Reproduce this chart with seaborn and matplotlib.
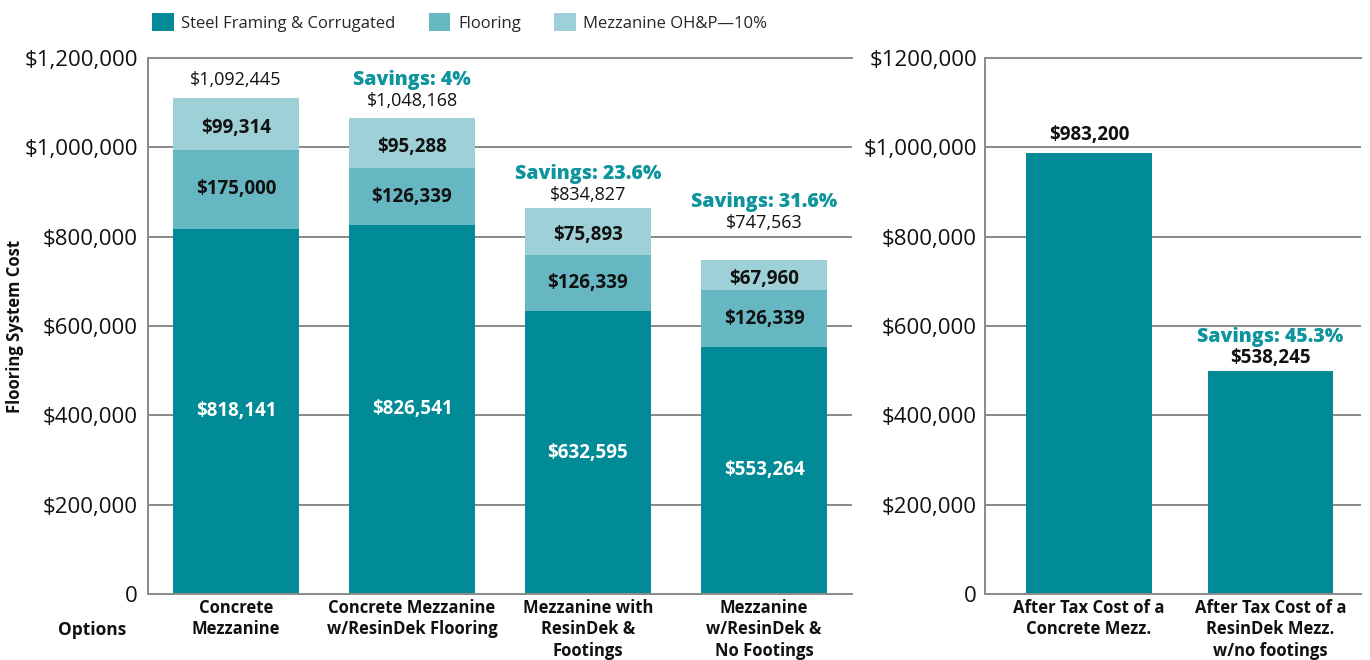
import matplotlib
matplotlib.use("Agg")
import matplotlib.pyplot as plt
import seaborn as sns
import pandas as pd
from matplotlib.ticker import FixedLocator
from matplotlib.patches import Patch

# ---------------- data ----------------
categories = ["Concrete\nMezzanine",
              "Concrete Mezzanine\nw/ResinDek Flooring",
              "Mezzanine with\nResinDek &\nFootings",
              "Mezzanine\nw/ResinDek &\nNo Footings"]
steel = [818141, 826541, 632595, 553264]
flooring = [175000, 126339, 126339, 126339]
ohp = [117000, 113000, 105000, 67960]          # heights as drawn in the picture
steel_labels = ["$818,141", "$826,541", "$632,595", "$553,264"]
flooring_labels = ["$175,000", "$126,339", "$126,339", "$126,339"]
ohp_labels = ["$99,314", "$95,288", "$75,893", "$67,960"]
total_labels = ["$1,092,445", "$1,048,168", "$834,827", "$747,563"]
savings_labels = ["", "Savings: 4%", "Savings: 23.6%", "Savings: 31.6%"]

after_tax_categories = ["After Tax Cost of a\nConcrete Mezz.",
                        "After Tax Cost of a\nResinDek Mezz.\nw/no footings"]
after_tax = [987000, 499000]                  # heights as drawn in the picture
after_tax_labels = ["$983,200", "$538,245"]
after_tax_savings = ["", "Savings: 45.3%"]

ytick_values = [0, 200000, 400000, 600000, 800000, 1000000, 1200000]
left_ytick_labels = ["0", "$200,000", "$400,000", "$600,000", "$800,000", "$1,000,000", "$1,200,000"]
right_ytick_labels = ["0", "$200,000", "$400,000", "$600,000", "$800,000", "$1,000,000", "$1200,000"]
legend_labels = ["Steel Framing & Corrugated", "Flooring", "Mezzanine OH&P\u201410%"]

# ---------------- style ----------------
C_STEEL = "#008b96"
C_FLOOR = "#66b7c2"
C_OHP = "#9dd1d7"
C_SAVE = "#0e949c"
C_GRID = "#8c8c8c"
C_TICK = "#222222"

sns.set_style("white")
plt.rcParams["font.family"] = ["Open Sans", "DejaVu Sans"]

W, H = 1370, 660
fig = plt.figure(figsize=(W / 100, H / 100), dpi=100)
ax1 = fig.add_axes([148 / W, 66 / H, 704 / W, 536 / H])
ax2 = fig.add_axes([985 / W, 66 / H, 376 / W, 536 / H])

df = pd.DataFrame({"cat": categories, "steel": steel, "floor": flooring, "ohp": ohp})
df["lvl2"] = df["steel"] + df["floor"]
df["lvl3"] = df["lvl2"] + df["ohp"]

common = dict(errorbar=None, saturation=1, edgecolor="none", linewidth=0)
sns.barplot(data=df, x="cat", y="lvl3", order=categories, color=C_OHP, width=0.72, ax=ax1, **common)
sns.barplot(data=df, x="cat", y="lvl2", order=categories, color=C_FLOOR, width=0.72, ax=ax1, **common)
sns.barplot(data=df, x="cat", y="steel", order=categories, color=C_STEEL, width=0.72, ax=ax1, **common)

df2 = pd.DataFrame({"cat": after_tax_categories, "val": after_tax})
sns.barplot(data=df2, x="cat", y="val", order=after_tax_categories, color=C_STEEL, width=0.69, ax=ax2, **common)

PX = 0.72  # points per pixel


def style_axes(ax, xlim, yticklabels, boundaries, ypad):
    ax.set_xlim(*xlim)
    ax.set_ylim(0, 1200000)
    ax.set_xlabel("")
    ax.set_ylabel("")
    ax.set_axisbelow(True)
    ax.yaxis.set_major_locator(FixedLocator(ytick_values))
    ax.set_yticklabels(yticklabels)
    ax.yaxis.grid(True, color=C_GRID, linewidth=2 * PX)
    ax.xaxis.grid(False)
    for s in ["left", "bottom", "top"]:
        ax.spines[s].set_visible(True)
        ax.spines[s].set_color(C_GRID)
        ax.spines[s].set_linewidth(2 * PX)
    ax.spines["right"].set_visible(False)
    ax.tick_params(axis="y", which="major", length=0, pad=ypad * PX, labelsize=16, labelcolor="#111111")
    ax.tick_params(axis="x", which="major", length=0, pad=5 * PX, labelsize=12, labelcolor="#111111")
    for lab in ax.get_xticklabels():
        lab.set_fontweight("bold")
        lab.set_linespacing(1.25)
    ax.yaxis.set_minor_locator(FixedLocator([0]))
    ax.xaxis.set_minor_locator(FixedLocator(boundaries))
    ax.tick_params(axis="y", which="minor", direction="in", length=17 * PX, width=2.5 * PX, color=C_TICK)
    ax.tick_params(axis="x", which="minor", direction="in", length=13 * PX, width=2.5 * PX, color=C_TICK)


style_axes(ax1, (-0.5, 3.5), left_ytick_labels, [0.5, 1.5, 2.5, 3.5], 10)
style_axes(ax2, (-0.573, 1.5), right_ytick_labels, [0.5, 1.5], 8)

# segment labels
for i in range(len(categories)):
    s, f, o = steel[i], flooring[i], ohp[i]
    ax1.text(i, s / 2, steel_labels[i], ha="center", va="center", color="white",
             fontsize=13.5, fontweight="bold")
    ax1.text(i, s + f / 2, flooring_labels[i], ha="center", va="center", color="#111111",
             fontsize=13.5, fontweight="bold")
    ax1.text(i, s + f + o / 2 - 8000, ohp_labels[i], ha="center", va="center", color="#111111",
             fontsize=13.5, fontweight="bold")

total_offsets = [18, 17, 13, 37]
for i in range(len(categories)):
    top = steel[i] + flooring[i] + ohp[i]
    ax1.annotate(total_labels[i], xy=(i, top), xytext=(0, total_offsets[i] * PX),
                 textcoords="offset points", ha="center", va="center", fontsize=13,
                 color="#111111", fontweight="medium")
    if savings_labels[i]:
        ax1.annotate(savings_labels[i], xy=(i, top), xytext=(0, (total_offsets[i] + 21) * PX),
                     textcoords="offset points", ha="center", va="center", fontsize=14,
                     color=C_SAVE, fontweight=800)

right_offsets = [18, 13]
for i in range(len(after_tax)):
    ax2.annotate(after_tax_labels[i], xy=(i, after_tax[i]), xytext=(0, right_offsets[i] * PX),
                 textcoords="offset points", ha="center", va="center", fontsize=13.5,
                 color="#111111", fontweight="bold")
    if after_tax_savings[i]:
        ax2.annotate(after_tax_savings[i], xy=(i, after_tax[i]), xytext=(0, (right_offsets[i] + 21) * PX),
                     textcoords="offset points", ha="center", va="center", fontsize=14,
                     color=C_SAVE, fontweight=800)

# legend
handles = [Patch(facecolor=c, edgecolor="none") for c in (C_STEEL, C_FLOOR, C_OHP)]
fig.legend(handles, legend_labels, loc="upper left", bbox_to_anchor=(152 / W, 1 - 13 / H),
           ncol=3, frameon=False, fontsize=12, handlelength=1.3, handleheight=1.3,
           handletextpad=0.45, columnspacing=2.0, borderpad=0, borderaxespad=0)

fig.text(15 / W, 1 - 326 / H, "Flooring System Cost", rotation=90, ha="center", va="center",
         fontsize=12, fontweight="bold", color="#111111")
fig.text(92 / W, 1 - 630 / H, "Options", ha="center", va="center", fontsize=12.5,
         fontweight="bold", color="#111111")

fig.savefig("out.png", dpi=100)
